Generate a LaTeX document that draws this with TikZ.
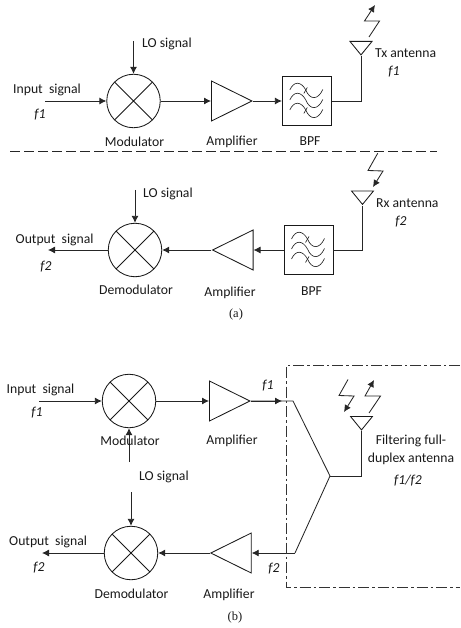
\documentclass[tikz,border=0pt]{standalone}
\usepackage{fontspec}
\setmainfont{Carlito}
\newfontfamily\capfont{Liberation Serif}
\usetikzlibrary{arrows.meta,shapes.geometric}
\tikzset{
  wire/.style={line width=0.85pt,draw=black!85},
  sig/.style={wire,-{Latex[length=7pt,width=7pt]}},
  mixer/.style={circle,draw=black!90,line width=0.85pt,minimum size=53.5pt,inner sep=0pt,
    path picture={\draw[line width=0.85pt,black!90]
      (path picture bounding box.north west)--(path picture bounding box.south east)
      (path picture bounding box.north east)--(path picture bounding box.south west);}},
  ampR/.style={isosceles triangle,isosceles triangle stretches,draw=black!90,line width=0.85pt,
    inner sep=0pt,minimum height=40.5pt,minimum width=40pt,shape border rotate=0},
  ampL/.style={ampR,shape border rotate=180},
  ant/.style={isosceles triangle,isosceles triangle stretches,draw=black!90,line width=0.85pt,
    inner sep=0pt,minimum height=13.5pt,minimum width=22pt,shape border rotate=270},
  filt/.style={rectangle,draw=black!90,line width=0.85pt,minimum width=49pt,minimum height=49pt,inner sep=0pt},
  lab/.style={inner sep=0pt,font=\fontsize{13.7}{15}\selectfont,text=black!90},
  labl/.style={lab,anchor=west},
  ital/.style={lab,font=\fontsize{13.7}{15}\selectfont\itshape},
  capt/.style={inner sep=0pt,font=\fontsize{12.5}{14}\selectfont\capfont,text=black!90},
  sep/.style={line width=0.9pt,black!85,dash pattern=on 9.5pt off 4.5pt},
  frame/.style={line width=0.9pt,black!80,dash pattern=on 11pt off 3pt on 2.5pt off 3pt}
}
\newcommand{\waves}[1]{%
  \foreach \dy in {-11,-1,9}{
    \draw[line width=0.65pt,black!85] ([shift={(-17,\dy)}]#1.center)
      .. controls ([shift={(-13,\dy-9)}]#1.center) and ([shift={(-6,\dy-9)}]#1.center) .. ([shift={(-1,\dy)}]#1.center)
      .. controls ([shift={(3,\dy+10)}]#1.center) and ([shift={(11,\dy+10.5)}]#1.center) .. ([shift={(16,\dy-0.5)}]#1.center);}
  \draw[line width=0.65pt,black!85] ([shift={(0.5,-13.5)}]#1.center)--([shift={(-3,-7.5)}]#1.center)
     ([shift={(0.5,6.5)}]#1.center)--([shift={(-3,12.5)}]#1.center);}
\begin{document}
\begin{tikzpicture}[x=1pt,y=-1pt]
\useasboundingbox (0,0) rectangle (460,628);
% ---------- (a) upper
\node[mixer] (m1) at (133.5,101) {};
\node[ampR,anchor=west] (a1) at (211,101) {};
\node[filt] (b1) at (306.8,101) {};
\node[ant,anchor=north] (t1) at (361,41) {};
\coordinate (i1) at (45,101);
\coordinate (l1) at (133.5,41);
\draw[sig] (l1)--(m1.north);
\draw[sig] (i1)--(m1.west);
\draw[sig] (m1.east)--(a1.west);
\draw[sig] (a1.east)--(b1.west);
\draw[wire] (b1.east)--(t1.south |- b1.east)--(t1.south);
\waves{b1}
\draw[sig] (369,37)--(379.5,21)--(364.5,21)--(375,5);
\node[labl] (n1) at (142,44) {LO signal};
\node[labl] (n2) at (13,90) {Input\ \ signal};
\node[ital] (n3) at (40,115) {f1};
\node[lab] (n4) at (134.5,142) {Modulator};
\node[lab] (n5) at (232,142) {Amplifier};
\node[lab] (n6) at (310,141) {BPF};
\node[labl] (n7) at (375,53) {Tx antenna};
\node[ital] (n8) at (394,72) {f1};
% separator
\coordinate (s1) at (10,151);
\coordinate (s2) at (437,151);
\draw[sep] (s1)--(s2);
% ---------- (a) lower
\node[mixer] (m2) at (135,250) {};
\node[ampL,anchor=east] (a2) at (253.5,250) {};
\node[filt] (b2) at (308.5,250) {};
\node[ant,anchor=north] (t2) at (362.5,190.5) {};
\coordinate (o2) at (48,250);
\coordinate (l2) at (135,190);
\draw[sig] (l2)--(m2.north);
\draw[sig] (m2.west)--(o2);
\draw[sig] (a2.west)--(m2.east);
\draw[sig] (b2.west)--(a2.east);
\draw[wire] (b2.east)--(t2.south |- b2.east)--(t2.south);
\waves{b2}
\draw[sig] (377.7,153.3)--(368,170.5)--(383,171)--(373,187);
\node[labl] (n9) at (143,194) {LO signal};
\node[labl] (n10) at (15.5,240) {Output\ \ signal};
\node[ital] (n11) at (46,267) {f2};
\node[lab] (n12) at (136,290) {Demodulator};
\node[lab] (n13) at (230,293) {Amplifier};
\node[lab] (n14) at (311.5,291) {BPF};
\node[labl] (n15) at (376,203) {Rx antenna};
\node[ital] (n16) at (401,222) {f2};
\node[capt] (c1) at (236,314) {(a)};
% ---------- (b)
\node[mixer] (m3) at (129,401) {};
\node[ampR,anchor=west] (a3) at (209,401) {};
\node[mixer] (m4) at (131,553) {};
\node[ampL,anchor=east] (a4) at (251.7,553) {};
\node[ant,anchor=north] (t3) at (361.5,416) {};
\coordinate (i3) at (39,401);
\coordinate (l3) at (129,462);
\coordinate (l4) at (131,492);
\coordinate (o4) at (42,553);
\coordinate (j1) at (293,401);
\coordinate (j2) at (295,553);
\coordinate (j3) at (330,476);
\draw[sig] (i3)--(m3.west);
\draw[sig] (l3)--(m3.south);
\draw[sig] (m3.east)--(a3.west);
\draw[sig] (a3.east)--(282,401);
\draw[wire] (a3.east)--(j1)--(j3)--(j2);
\draw[wire] (j3)--(t3.south |- j3)--(t3.south);
\draw[sig] (j2)--(a4.east);
\draw[sig] (a4.west)--(m4.east);
\draw[sig] (l4)--(m4.north);
\draw[sig] (m4.west)--(o4);
\draw[sig] (348,379.5)--(339,395.5)--(354,396)--(344,412);
\draw[sig] (369,413)--(380.5,396)--(365,396)--(374,380);
\draw[frame] (460,365.7)--(286,365.7)--(286,587.7)--(460,587.7);
\node[labl] (n17) at (6.5,390) {Input\ \ signal};
\node[ital] (n18) at (37,413) {f1};
\node[lab] (n19) at (130,441) {Modulator};
\node[lab] (n20) at (232,441) {Amplifier};
\node[labl] (n21) at (139,477) {LO signal};
\node[ital] (n22) at (268,386) {f1};
\node[lab] (n23) at (411,441) {Filtering full-};
\node[lab] (n24) at (411,458.5) {duplex antenna};
\node[ital] (n25) at (408,481) {f1/f2};
\node[labl] (n26) at (9,542) {Output\ \ signal};
\node[ital] (n27) at (39,568) {f2};
\node[lab] (n28) at (131.5,594) {Demodulator};
\node[lab] (n29) at (229,595) {Amplifier};
\node[ital] (n30) at (274,569) {f2};
\node[capt] (c2) at (235,617) {(b)};
\end{tikzpicture}
\end{document}
